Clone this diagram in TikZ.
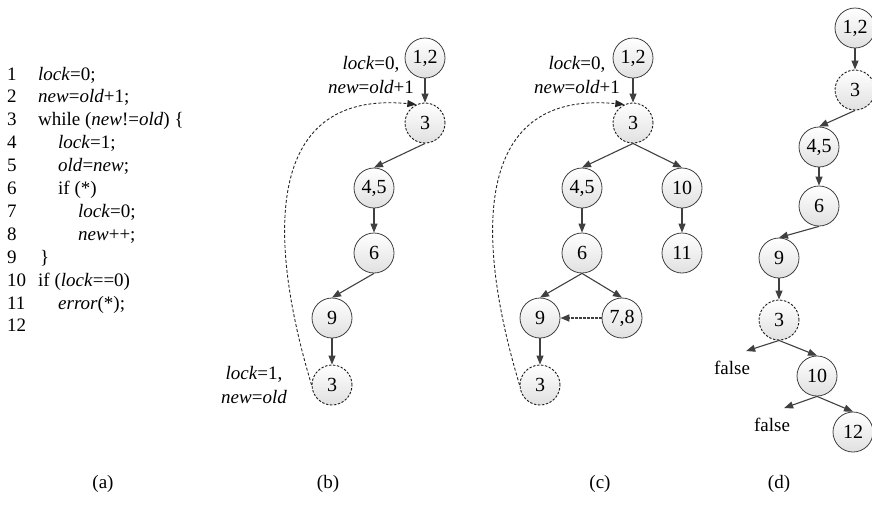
\documentclass[tikz,border=0pt]{standalone}
\usepackage{fontspec}
\setmainfont{Liberation Serif}
\usetikzlibrary{arrows.meta}
\begin{document}
\begin{tikzpicture}[x=1pt,y=-1pt,
  every node/.style={font=\fontsize{19}{24}\selectfont},
  nd/.style={circle,draw=black!75,line width=0.8pt,top color=white,bottom color=black!12,minimum size=40pt,inner sep=0pt,font=\fontsize{20}{24}\selectfont},
  dnd/.style={nd,draw=black!90,line width=0.9pt,dash pattern=on 2.4pt off 1.6pt},
  ar/.style={draw=black!75,line width=1.1pt,-{Triangle[length=9pt,width=7pt]}},
  back/.style={draw=black!85,line width=0.9pt,dash pattern=on 3pt off 2pt,-{Triangle[length=9pt,width=7pt]}},
  side/.style={draw=black!75,line width=1.7pt,dash pattern=on 2.5pt off 1.5pt,-{Triangle[length=9pt,width=7pt]}},
  code/.style={anchor=base west,inner sep=0pt},
  lbl/.style={align=center,inner sep=0pt}
]
\useasboundingbox (0,0) rectangle (872,504);
% (a) code
\foreach \n [count=\i] in {1,...,12}{
  \node[code] (n\i) at (7,{80+22.9*(\i-1)}) {\n};
}
\node[code] (c1) at (38,80) {\textit{lock}=0;};
\node[code] (c2) at (38,102.9) {\textit{new}=\textit{old}+1;};
\node[code] (c3) at (38,125.8) {while (\textit{new}!=\textit{old}) \{};
\node[code] (c4) at (58,148.7) {\textit{lock}=1;};
\node[code] (c5) at (58,171.6) {\textit{old}=\textit{new};};
\node[code] (c6) at (58,194.5) {if (*)};
\node[code] (c7) at (78,217.4) {\textit{lock}=0;};
\node[code] (c8) at (78,240.3) {\textit{new}++;};
\node[code] (c9) at (40,263.2) {\}};
\node[code] (c10) at (38,286.1) {if (\textit{lock}==0)};
\node[code] (c11) at (58,309) {\textit{error}(*);};

% (b)
\node[nd] (b12) at (425,58) {1,2};
\node[dnd] (b3) at (425,123) {3};
\node[nd] (b45) at (374,188) {4,5};
\node[nd] (b6) at (374,253) {6};
\node[nd] (b9) at (332,318) {9};
\node[dnd] (b3b) at (332,385) {3};
\node[lbl] (bl1) at (371,75) {\textit{lock}=0,\\\textit{new}=\textit{old}+1};
\node[lbl] (bl2) at (254,385) {\textit{lock}=1,\\\textit{new}=\textit{old}};
\draw[ar] (b12) -- (b3);
\draw[ar] (b3.south) -- (b45.north);
\draw[ar] (b45) -- (b6);
\draw[ar] (b6.south) -- (b9.north);
\draw[ar] (b9) -- (b3b);
\draw[back] (b3b.west) .. controls (265,230) and (268,90) .. (b3.115);

% (c)
\node[nd] (k12) at (633,58) {1,2};
\node[dnd] (k3) at (633,123) {3};
\node[nd] (k45) at (582,188) {4,5};
\node[nd] (k10) at (682,188) {10};
\node[nd] (k6) at (582,253) {6};
\node[nd] (k11) at (682,253) {11};
\node[nd] (k9) at (540,318) {9};
\node[nd] (k78) at (622,318) {7,8};
\node[dnd] (k3b) at (540,385) {3};
\node[lbl] (kl1) at (577,75) {\textit{lock}=0,\\\textit{new}=\textit{old}+1};
\draw[ar] (k12) -- (k3);
\draw[ar] (k3.south) -- (k45.north);
\draw[ar] (k3.south) -- (k10.north);
\draw[ar] (k45) -- (k6);
\draw[ar] (k10) -- (k11);
\draw[ar] (k6.south) -- (k9.north);
\draw[ar] (k6.south) -- (k78.north);
\draw[side] (k78) -- (k9);
\draw[ar] (k9) -- (k3b);
\draw[back] (k3b.west) .. controls (473,230) and (476,90) .. (k3.115);

% (d)
\node[nd] (d12) at (855,28) {1,2};
\node[dnd] (d3) at (855,90) {3};
\node[nd] (d45) at (819,147) {4,5};
\node[nd] (d6) at (819,206) {6};
\node[nd] (d9) at (779,258) {9};
\node[dnd] (d3b) at (779,320) {3};
\node[nd] (d10) at (817,376) {10};
\node[nd] (d12b) at (853,432) {12};
\node[inner sep=0pt] (f1) at (732,368) {false};
\node[inner sep=0pt] (f2) at (772,425) {false};
\draw[ar] (d12) -- (d3);
\draw[ar] (d3.south) -- (d45.north);
\draw[ar] (d45) -- (d6);
\draw[ar] (d6.south) -- (d9.north);
\draw[ar] (d9) -- (d3b);
\draw[ar] (d3b.south) -- ([xshift=-4pt,yshift=10pt]f1.north east);
\draw[ar] (d3b.south) -- (d10.north);
\draw[ar] (d10.south) -- ([xshift=-6pt,yshift=10pt]f2.north east);
\draw[ar] (d10.south) -- (d12b.north);

% captions
\node (ca) at (103,484) {(a)};
\node (cb) at (328,484) {(b)};
\node (cc) at (600,484) {(c)};
\node (cd) at (779,484) {(d)};
\end{tikzpicture}
\end{document}
